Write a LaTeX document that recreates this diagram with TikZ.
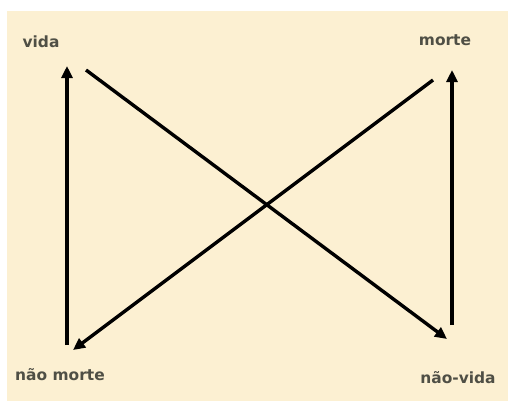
\documentclass[tikz,border=0pt]{standalone}
\usepackage{fontspec}
\setmainfont{DejaVu Sans}
\usepackage{xcolor}
\usetikzlibrary{arrows.meta}
\definecolor{paper}{HTML}{FCF0D2}
\definecolor{labelgray}{HTML}{4F4F45}
\tikzset{
  word/.style={font=\bfseries\fontsize{15.5}{18}\selectfont,text=labelgray,inner sep=0pt},
  link/.style={line width=3.4bp,-{Triangle[length=12bp,width=11bp]}},
}

\begin{document}
\begin{tikzpicture}[x=1bp, y=-1bp]
  % canvas
  \useasboundingbox (0,0) rectangle (508,401);
  \fill[paper] (7,11) rectangle (508,401);

  % words
  \node[word] (vida) at (41,42) {vida};
  \node[word] (morte) at (445,40) {morte};
  \node[word] (naomorte) at (60,375) {não morte};
  \node[word] (naovida) at (458,378) {não-vida};

  % arrow ends
  \coordinate (nm-up) at (67,345);
  \coordinate (vida-in) at (67,66);
  \coordinate (vida-out) at (86,70);
  \coordinate (nv-in) at (447,339);
  \coordinate (nv-up) at (452,325);
  \coordinate (morte-in) at (452,70);
  \coordinate (morte-out) at (433,80);
  \coordinate (nm-in) at (73,350);

  % arrows
  \draw[link] (nm-up) -- (vida-in);
  \draw[link] (vida-out) -- (nv-in);
  \draw[link] (nv-up) -- (morte-in);
  \draw[link] (morte-out) -- (nm-in);
\end{tikzpicture}
\end{document}
